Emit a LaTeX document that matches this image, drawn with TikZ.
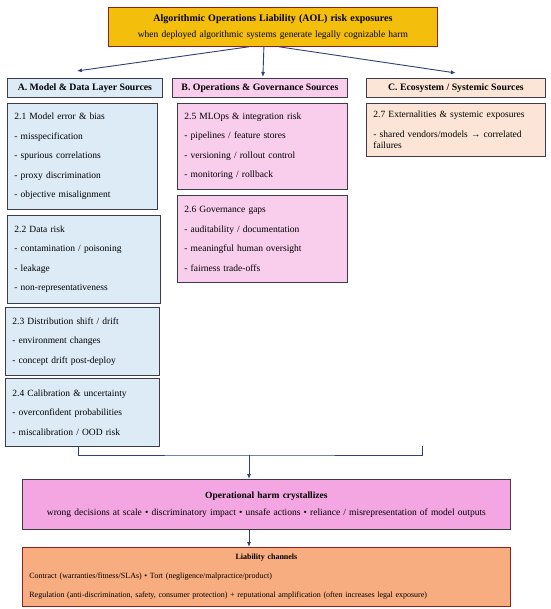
\documentclass[tikz,border=0pt]{standalone}
\usepackage{fontspec}
\setmainfont{Liberation Serif}
\usetikzlibrary{arrows.meta}
\definecolor{goldfill}{HTML}{F4BF0C}
\definecolor{redline}{HTML}{8B2323}
\definecolor{boxline}{HTML}{3C3C4A}
\definecolor{blueA}{HTML}{DDEBF7}
\definecolor{pinkB}{HTML}{F9CDEC}
\definecolor{peachC}{HTML}{FCE4D6}
\definecolor{harmfill}{HTML}{F3A6E2}
\definecolor{liabfill}{HTML}{F7AD7F}
\definecolor{arrowblue}{HTML}{2E3F7A}
\tikzset{srcbox/.style={draw=boxline, line width=0.8pt, anchor=north west,
         inner xsep=7pt, inner ysep=0pt, align=left,
         font=\fontsize{9.5}{11}\selectfont},
         headbox/.style={srcbox, font=\fontsize{9.8}{11}\selectfont\bfseries},
         flow/.style={-{Latex[length=5pt,width=4pt]}, draw=arrowblue, line width=0.9pt}}

\begin{document}
\begin{tikzpicture}[x=1pt,y=-1pt]
        \useasboundingbox (0,0) rectangle (550,609);

        % Top box
        \node[srcbox, draw=redline, fill=goldfill, align=center, minimum width=329pt,
              minimum height=39pt, text width=315pt] (top) at (108,7)
              {{\fontsize{10}{11}\selectfont\bfseries Algorithmic Operations Liability (AOL) risk exposures}\\[5pt]
               when deployed algorithmic systems generate legally cognizable harm};

        % Column headings
        \node[headbox, fill=blueA, minimum width=155pt, minimum height=19pt] (hA) at (7,78)
              {A. Model \& Data Layer Sources};
        \node[headbox, fill=pinkB, minimum width=175pt, minimum height=19pt] (hB) at (172,78)
              {B. Operations \& Governance Sources};
        \node[headbox, fill=peachC, minimum width=179pt, minimum height=19pt] (hC) at (366,78)
              {C. Ecosystem / Systemic Sources};

        % A column
        \node[srcbox, fill=blueA, minimum width=150pt, minimum height=106pt, text width=136pt] (m21) at (7,103)
              {2.1 Model error \& bias\\[8.5pt] - misspecification\\[8.5pt] - spurious correlations\\[8.5pt]
               - proxy discrimination\\[8.5pt] - objective misalignment};
        \node[srcbox, fill=blueA, minimum width=153pt, minimum height=88pt, text width=139pt] (m22) at (7,215)
              {2.2 Data risk\\[8.5pt] - contamination / poisoning\\[8.5pt] - leakage\\[8.5pt] - non-representativeness};
        \node[srcbox, fill=blueA, minimum width=154pt, minimum height=68pt, text width=140pt] (m23) at (5,307)
              {2.3 Distribution shift / drift\\[8.5pt] - environment changes\\[8.5pt] - concept drift post-deploy};
        \node[srcbox, fill=blueA, minimum width=154pt, minimum height=68pt, text width=140pt] (m24) at (5,378)
              {2.4 Calibration \& uncertainty\\[8.5pt] - overconfident probabilities\\[8.5pt] - miscalibration / OOD risk};

        % B column
        \node[srcbox, fill=pinkB, minimum width=170pt, minimum height=86pt, text width=156pt] (m25) at (177,103)
              {2.5 MLOps \& integration risk\\[8.5pt] - pipelines / feature stores\\[8.5pt]
               - versioning / rollout control\\[8.5pt] - monitoring / rollback};
        \node[srcbox, fill=pinkB, minimum width=170pt, minimum height=87pt, text width=156pt] (m26) at (177,195)
              {2.6 Governance gaps\\[8.5pt] - auditability / documentation\\[8.5pt]
               - meaningful human oversight\\[8.5pt] - fairness trade-offs};

        % C column
        \node[srcbox, fill=peachC, minimum width=179pt, minimum height=53pt, text width=165pt] (m27) at (366,103)
              {2.7 Externalities \& systemic exposures\\[8.5pt] - shared vendors/models → correlated\\ failures};

        % Harm and liability
        \node[srcbox, fill=harmfill, align=center, minimum width=488pt, minimum height=50pt, text width=474pt] (harm) at (22,479)
              {\textbf{Operational harm crystallizes}\\[6pt]
               wrong decisions at scale • discriminatory impact • unsafe actions • reliance / misrepresentation of model outputs};
        \node[srcbox, draw=redline, fill=liabfill, minimum width=488pt, minimum height=59pt, text width=474pt,
              font=\fontsize{8}{10}\selectfont] (liab) at (22,547)
              {\makebox[\linewidth]{\textbf{Liability channels}}\\[9pt]
               Contract (warranties/fitness/SLAs) • Tort (negligence/malpractice/product)\\[9pt]
               Regulation (anti-discrimination, safety, consumer protection) + reputational amplification (often increases legal exposure)};

        % Arrows from the top box
        \draw[flow] ([xshift=-24pt]top.south) -- ([xshift=-8pt,yshift=7pt]hA.north);
        \draw[flow] ([xshift=-9pt]top.south) -- ([xshift=3pt,yshift=1pt]hB.north);
        \draw[flow] ([xshift=6pt]top.south) -- ([yshift=5pt]hC.north);

        % Bracket into harm
        \coordinate (brk) at (422,446);
        \coordinate (join) at (249,455);
        \draw[draw=arrowblue, line width=0.9pt] ([xshift=-4pt]m24.south) |- (join) -| (brk);
        \draw[flow] (join) -- (harm.north -| join);
        \draw[flow] (harm.south -| join) -- (liab.north -| join);
\end{tikzpicture}
\end{document}
